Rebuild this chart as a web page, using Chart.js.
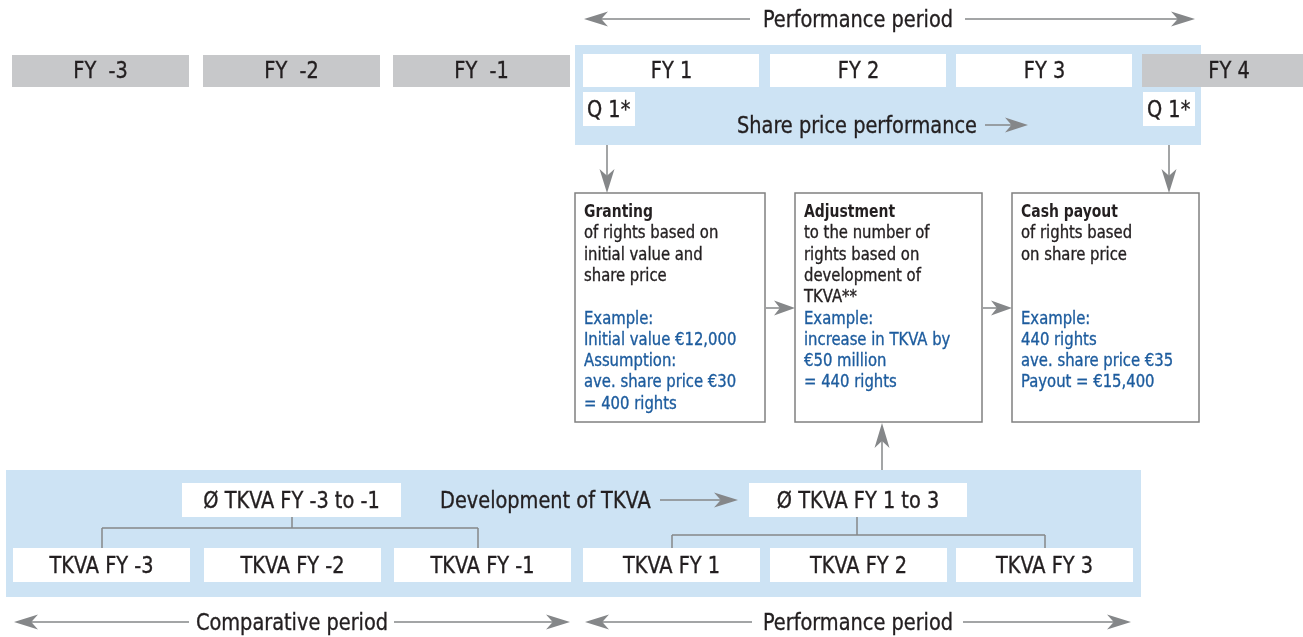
<!DOCTYPE html>
<html>
<head>
<meta charset="utf-8">
<script src="https://cdn.jsdelivr.net/npm/chart.js@4/dist/chart.umd.min.js"></script>
<style>
  html, body { margin: 0; padding: 0; background: #fff; }
  #wrap { width: 1303px; height: 637px; position: relative; }
</style>
</head>
<body>
<div id="wrap"><canvas id="mycanvas"></canvas></div>
<script>
// ---- data (texts of the diagram) ----
var years = ['FY  -3', 'FY  -2', 'FY  -1', 'FY 1', 'FY 2', 'FY 3', 'FY 4'];
var tkvaYears = ['TKVA FY -3', 'TKVA FY -2', 'TKVA FY -1', 'TKVA FY 1', 'TKVA FY 2', 'TKVA FY 3'];
var averages = ['Ø TKVA FY -3 to -1', 'Ø TKVA FY 1 to 3'];
var periods = ['Comparative period', 'Performance period'];
var quarters = ['Q 1*', 'Q 1*'];
var stepTitles = ['Granting', 'Adjustment', 'Cash payout'];
var stepText = [
  ['of rights based on', 'initial value and', 'share price'],
  ['to the number of', 'rights based on', 'development of', 'TKVA**'],
  ['of rights based', 'on share price']
];
var stepExample = [
  ['Example:', 'Initial value €12,000', 'Assumption:', 'ave. share price €30', '= 400 rights'],
  ['Example:', 'increase in TKVA by', '€50 million', '= 440 rights'],
  ['Example:', '440 rights', 'ave. share price €35', 'Payout = €15,400']
];
var sharePriceLabel = 'Share price performance';
var developmentLabel = 'Development of TKVA';

// ---- layout, in units of the hidden x / y axes ----
var colLeft = [12, 203, 393, 583, 770, 956, 1142];
var colWidth = 177;
var stepLeft = [575, 795, 1012];
var stepRight = [765, 982, 1199];

var FONT = '"DejaVu Sans Condensed", "Liberation Sans", Arial, sans-serif';
var INK = '#231f20';
var BLUE = '#1d5c9e';
var GREY = '#c7c8ca';
var PANEL = '#cde3f4';
var LINE = '#858789';
var TALL = 1.1; // glyphs in the original are narrower / taller

var diagram = {
  id: 'diagram',
  afterDraw: function(chart) {
    var ctx = chart.ctx;
    var xs = chart.scales.x, ys = chart.scales.y;
    function X(v) { return xs.getPixelForValue(v); }
    function Y(v) { return ys.getPixelForValue(v); }

    function box(x0, y0, x1, y1, fill, stroke) {
      ctx.fillStyle = fill;
      ctx.fillRect(X(x0), Y(y0), X(x1) - X(x0), Y(y1) - Y(y0));
      if (stroke) {
        ctx.strokeStyle = stroke;
        ctx.lineWidth = 1.5;
        ctx.strokeRect(X(x0), Y(y0), X(x1) - X(x0), Y(y1) - Y(y0));
      }
    }
    function line(x0, y0, x1, y1) {
      ctx.strokeStyle = LINE;
      ctx.lineWidth = 1.5;
      ctx.beginPath();
      ctx.moveTo(X(x0), Y(y0));
      ctx.lineTo(X(x1), Y(y1));
      ctx.stroke();
    }
    // line from (x0,y0) with a head at (x1,y1)
    function arrow(x0, y0, x1, y1, len, half) {
      len = len || 20; half = half || 7;
      var ax = X(x0), ay = Y(y0), bx = X(x1), by = Y(y1);
      var d = Math.sqrt((bx - ax) * (bx - ax) + (by - ay) * (by - ay));
      var ux = (bx - ax) / d, uy = (by - ay) / d;
      var nx = -uy, ny = ux;
      ctx.strokeStyle = LINE;
      ctx.lineWidth = 1.5;
      ctx.beginPath();
      ctx.moveTo(ax, ay);
      ctx.lineTo(bx - ux * len * 0.6, by - uy * len * 0.6);
      ctx.stroke();
      ctx.fillStyle = LINE;
      ctx.beginPath();
      ctx.moveTo(bx, by);
      ctx.lineTo(bx - ux * len + nx * half, by - uy * len + ny * half);
      ctx.lineTo(bx - ux * len * 0.72, by - uy * len * 0.72);
      ctx.lineTo(bx - ux * len - nx * half, by - uy * len - ny * half);
      ctx.closePath();
      ctx.fill();
    }
    function text(s, x, y, size, align, color, bold) {
      var sx = 1 / TALL;
      if (bold) sx = sx * 0.94;
      ctx.save();
      ctx.translate(X(x), Y(y));
      ctx.scale(sx, 1);
      ctx.font = (bold ? 'bold ' : '') + (size * TALL) + 'px ' + FONT;
      ctx.fillStyle = color || INK;
      ctx.strokeStyle = color || INK;
      ctx.lineWidth = 0.35;
      ctx.textAlign = align || 'center';
      ctx.textBaseline = 'alphabetic';
      ctx.fillText(s, 0, 0);
      if (!bold) ctx.strokeText(s, 0, 0);
      ctx.restore();
    }
    function period(label, left, right, mid, gapL, gapR, y) {
      arrow(mid - gapL, y, left, y, 24, 7.5);
      arrow(mid + gapR, y, right, y, 24, 7.5);
      text(label, mid, y + 8, 21.5);
    }

    ctx.save();

    // top period arrow
    period(periods[1], 584, 1195, 858, 108, 107, 19);

    // past years (grey)
    for (var i = 0; i < 3; i++) {
      box(colLeft[i], 55, colLeft[i] + colWidth, 87, GREY);
    }
    // share price panel
    box(575, 45, 1201, 145, PANEL);
    for (i = 3; i < 6; i++) {
      box(colLeft[i], 54, colLeft[i] + colWidth - 1, 87, '#ffffff');
    }
    box(colLeft[6], 54, 1303, 87, GREY);
    for (i = 0; i < years.length; i++) {
      var cx = colLeft[i] + (i < 6 ? colWidth / 2 : 87);
      text(years[i], cx, 78, 21.5);
    }
    // Q1 markers
    var qLeft = [583, 1143];
    for (i = 0; i < quarters.length; i++) {
      box(qLeft[i], 92, qLeft[i] + 52, 126, '#ffffff');
      text(quarters[i], qLeft[i] + 4, 117, 21.5, 'left');
    }
    text(sharePriceLabel, 737, 133, 21.5, 'left');
    arrow(985, 125, 1028, 125, 23, 7.5);

    // arrows down to the steps
    arrow(607, 145, 607, 193, 24, 7.5);
    arrow(1169, 145, 1169, 193, 24, 7.5);

    // step boxes
    for (i = 0; i < stepTitles.length; i++) {
      box(stepLeft[i], 193, stepRight[i], 422, '#ffffff', '#808080');
      var tx = stepLeft[i] + 9;
      text(stepTitles[i], tx, 217, 16.5, 'left', INK, true);
      for (var j = 0; j < stepText[i].length; j++) {
        text(stepText[i][j], tx, 217 + 21.3 * (j + 1), 16.5, 'left', INK);
      }
      for (j = 0; j < stepExample[i].length; j++) {
        text(stepExample[i][j], tx, 217 + 21.3 * (j + 5), 16.5, 'left', BLUE);
      }
    }
    arrow(766, 308, 795, 308, 21, 7.5);
    arrow(983, 308, 1012, 308, 21, 7.5);

    // TKVA panel
    box(6, 470, 1141, 597, PANEL);
    arrow(882, 470, 882, 423, 25, 7.5);

    // averages and connectors
    box(182, 483, 401, 517, '#ffffff');
    text(averages[0], 291.5, 508, 21.5);
    box(749, 483, 967, 517, '#ffffff');
    text(averages[1], 858, 508, 21.5);
    text(developmentLabel, 440, 508, 21.5, 'left');
    arrow(660, 500, 738, 500, 24, 7.5);

    line(292, 517, 292, 528);
    line(102, 528, 478, 528);
    line(102, 528, 102, 548);
    line(478, 528, 478, 548);
    line(857, 517, 857, 535);
    line(672, 535, 1045, 535);
    line(672, 535, 672, 548);
    line(1045, 535, 1045, 548);

    for (i = 0; i < tkvaYears.length; i++) {
      var l = colLeft[i] + (i < 3 ? 1 : 0);
      box(l, 548, l + colWidth, 582, '#ffffff');
      text(tkvaYears[i], l + colWidth / 2, 573, 21.5);
    }

    // bottom period arrows
    period(periods[0], 14, 570, 292, 103, 102, 622);
    period(periods[1], 585, 1131, 858, 106, 105, 622);

    ctx.restore();
  }
};

var ctx = document.getElementById('mycanvas');
var chart = new Chart(ctx, {
  type: 'scatter',
  data: { datasets: [] },
  options: {
    responsive: true,
    maintainAspectRatio: false,
    animation: false,
    layout: { padding: 0 },
    plugins: { legend: { display: false }, tooltip: { enabled: false } },
    scales: {
      x: { type: 'linear', min: 0, max: 1303, display: false },
      y: { type: 'linear', min: 0, max: 637, reverse: true, display: false }
    }
  },
  plugins: [diagram]
});
</script>
</body>
</html>
